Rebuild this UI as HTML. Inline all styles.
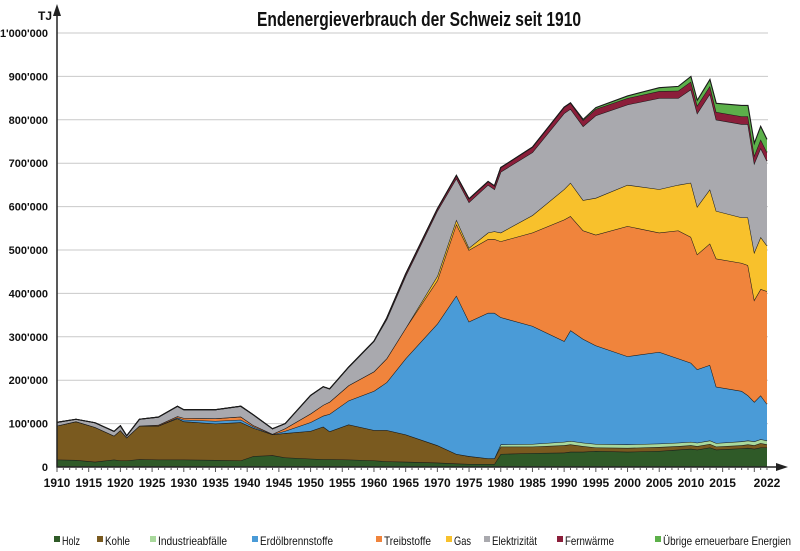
<!DOCTYPE html>
<html><head><meta charset="utf-8"><style>
body{margin:0;background:#fff;}
svg{display:block;font-family:"Liberation Sans Narrow","Liberation Sans",sans-serif;}
</style></head><body>
<svg id="chart" width="800" height="551" viewBox="0 0 800 551">
<text x="257" y="26" textLength="324" lengthAdjust="spacingAndGlyphs" font-size="20" font-weight="bold" fill="#111">Endenergieverbrauch der Schweiz seit 1910</text>
<text x="38" y="20" font-size="12" font-weight="bold" fill="#111">TJ</text>
<g id="grid"></g><g id="areas"></g><g id="axes"></g><g id="legend"></g>
</svg>
<script>
const years=[1910,1913,1916,1919,1920,1921,1923,1926,1929,1930,1935,1939,1941,1944,1946,1950,1952,1953,1956,1960,1962,1965,1970,1973,1975,1978,1979,1980,1985,1990,1991,1993,1995,2000,2005,2008,2010,2011,2013,2014,2018,2019,2020,2021,2022];
const holz=[17,16,12,17,15,15,18,17,17,17,16,15,25,27,22,19,18,18,17,15,13,12,10,8,7,7,7,30,32,33,35,35,37,35,37,40,42,40,45,40,43,44,42,45,45];
const kohle=[78,89,80,55,70,53,77,78,95,88,84,88,65,48,56,64,75,64,81,70,72,63,40,22,18,13,13,17,15,17,17,13,8,9,9,8,8,8,8,7,7,8,8,10,7];
const industrie=[0,0,0,0,0,0,0,0,0,0,0,0,0,0,0,0,0,0,0,0,0,0,0,0,0,0,0,5,6,8,8,8,8,8,8,8,8,8,8,8,9,9,9,9,9];
const erdoel=[0,0,0,0,0,0,0,0,2,4,6,6,3,0,5,20,25,40,55,90,110,175,280,365,310,335,335,293,272,232,255,239,227,203,211,194,182,169,174,130,116,104,91,101,84];
const treib=[0,0,0,0,0,0,0,2,3,4,6,7,3,1,6,20,25,28,35,45,55,70,100,165,165,170,170,175,215,280,263,250,255,300,275,295,290,265,280,295,295,300,235,245,260];
const gas=[0,0,0,0,0,0,0,0,0,0,0,0,0,0,0,0,0,0,0,0,0,0,10,10,5,15,18,20,40,70,77,70,85,95,100,105,125,110,125,110,105,110,110,120,105];
const elek=[8,5,10,10,10,4,15,18,23,19,20,24,24,12,11,42,42,30,42,70,90,120,150,95,105,110,97,140,145,175,170,170,190,185,210,200,215,215,220,210,215,215,205,205,195];
const fern=[0,0,0,0,0,0,0,0,0,0,0,0,0,0,0,0,0,0,0,0,3,5,5,7,8,8,8,10,12,14,14,14,15,15,16,17,18,18,18,18,18,18,18,20,20];
const uebrig=[0,0,0,0,0,0,0,0,0,0,0,0,0,0,0,0,0,0,0,0,0,0,0,0,0,0,0,0,0,0,0,2,3,5,8,10,12,12,15,20,25,25,28,30,30];
const seriesNames=["Holz","Kohle","Industrieabfälle","Erdölbrennstoffe","Treibstoffe","Gas","Elektrizität","Fernwärme","Übrige erneuerbare Energien"];
const yTicks=[0,100,200,300,400,500,600,700,800,900,1000];
const xTickLabels=[1910,1915,1920,1925,1930,1935,1940,1945,1950,1955,1960,1965,1970,1975,1980,1985,1990,1995,2000,2005,2010,2015,2022];

const colors=["#2f5a28","#7a5a1f","#a9d99c","#4a9bd7","#f0843c","#f8c12c","#a9a9ae","#8b1e3a","#5cb04a"];
const slugs=["holz","kohle","industrieabfaelle","erdoelbrennstoffe","treibstoffe","gas","elektrizitaet","fernwaerme","uebrige-erneuerbare"];
const legendX=[54,97,150,252,376,446,484,557,655];
const legendW=[18,25,69,73,47,17,45,49,128];
const data=[holz,kohle,industrie,erdoel,treib,gas,elek,fern,uebrig];
const NS="http://www.w3.org/2000/svg";
const x=y=>57+(y-1910)*(710/112);
const yv=v=>467-v*0.434;
function mk(t,a,p){const e=document.createElementNS(NS,t);for(const k in a)e.setAttribute(k,a[k]);p.appendChild(e);return e;}
const grid=document.getElementById('grid'),axes=document.getElementById('axes'),areas=document.getElementById('areas'),legend=document.getElementById('legend');
yTicks.forEach(t=>{
  if(t>0){const l=mk('line',{x1:57,x2:768,y1:yv(t),y2:yv(t),stroke:'#c9c9c9','stroke-width':1},grid);
  
  }
  const lab=t===0?'0':(t===1000?"1'000'000":t+"'000");
  const tx=mk('text',{x:48,y:yv(t)+4,'text-anchor':'end','font-size':11,'font-weight':'bold',fill:'#111'},axes);
  tx.textContent=lab;
  
  
});
let base=years.map(()=>0);
data.forEach((s,i)=>{
  const top=base.map((b,j)=>b+s[j]);
  let d='M'+years.map((yr,j)=>x(yr)+','+yv(top[j])).join(' L');
  for(let j=years.length-1;j>=0;j--)d+=' L'+x(years[j])+','+yv(base[j]);
  d+='Z';
  const p=mk('path',{d:d,fill:colors[i],stroke:'none'},areas);
  
  
  const ln=mk('path',{d:'M'+years.map((yr,j)=>x(yr)+','+yv(top[j])).join(' L'),fill:'none',stroke:'#1a1a1a','stroke-width':1.1},areas);
  
  
  base=top;
});
const ya=mk('line',{x1:57,x2:57,y1:468,y2:14,stroke:'#222','stroke-width':1.5},axes);


const yar=mk('path',{d:'M53,16 L57,4 L61,16Z',fill:'#222'},axes);


const xa=mk('line',{x1:57,x2:780,y1:467,y2:467,stroke:'#222','stroke-width':1.5},axes);


const xar=mk('path',{d:'M776,463 L788,467 L776,471Z',fill:'#222'},axes);


for(let yr=1910;yr<=2022;yr++){
  const tk=mk('line',{x1:x(yr),x2:x(yr),y1:467,y2:yr%5===0?472:470,stroke:'#555','stroke-width':1},axes);
  
  
}
xTickLabels.forEach(yr=>{
  const t=mk('text',{x:x(yr),y:487,'text-anchor':'middle','font-size':12,'font-weight':'bold',fill:'#111'},axes);
  t.textContent=yr;
  
  
});
seriesNames.forEach((n,i)=>{
  const g=mk('g',{},legend);
  
  
  mk('rect',{x:legendX[i],y:536,width:6,height:6,fill:colors[i]},g);
  const t=mk('text',{x:legendX[i]+8,y:545,'font-size':12,fill:'#111',textLength:legendW[i],lengthAdjust:'spacingAndGlyphs'},g);
  t.textContent=n;
});
</script>
</body></html>
